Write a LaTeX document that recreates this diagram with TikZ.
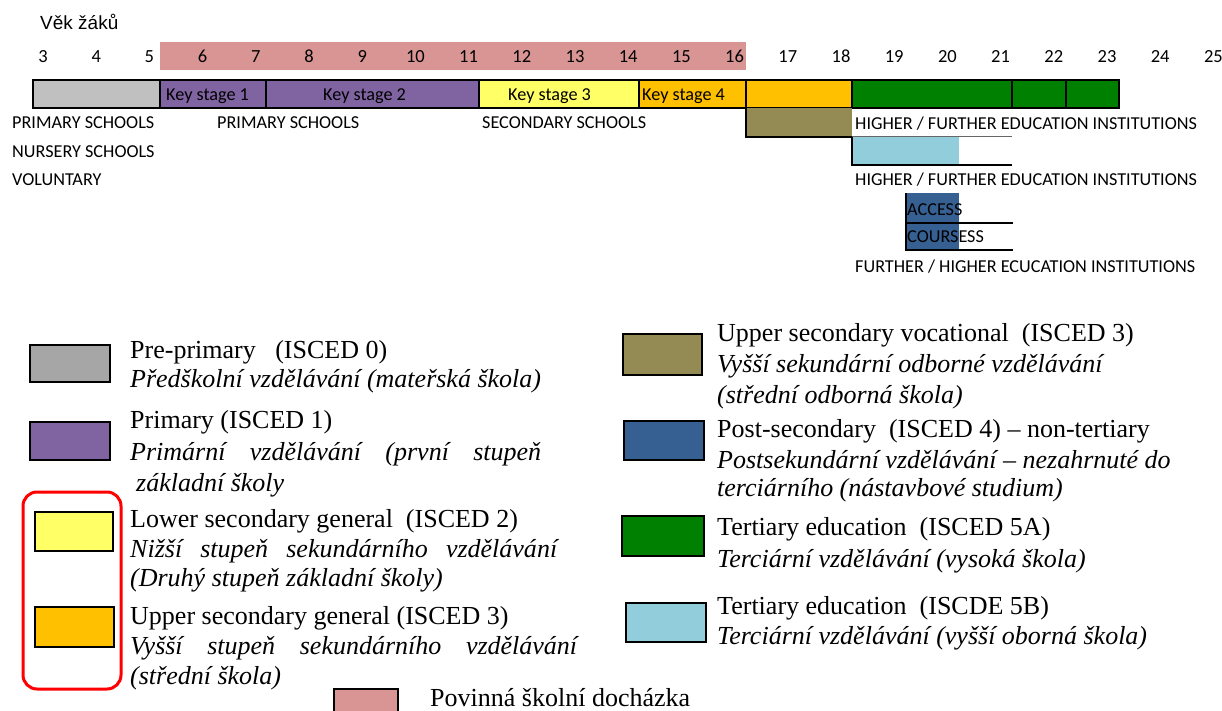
\documentclass[tikz,border=0pt]{standalone}
\usepackage{fontspec}
\setmainfont{Liberation Serif}
\newfontfamily\calfont{Carlito}
\newfontfamily\arialfont{Liberation Sans}
\usetikzlibrary{positioning}
\definecolor{barGrey}{HTML}{C0C0C0}
\definecolor{legGrey}{HTML}{A6A6A6}
\definecolor{dutyPink}{HTML}{D99594}
\definecolor{primPurple}{HTML}{8064A2}
\definecolor{lowYellow}{HTML}{FFFF66}
\definecolor{upOrange}{HTML}{FFC000}
\definecolor{vocOlive}{HTML}{948A54}
\definecolor{tertGreen}{HTML}{008000}
\definecolor{tertBlue}{HTML}{92CDDC}
\definecolor{postBlue}{HTML}{376092}
\tikzset{
  seg/.style={draw=black, line width=1.5pt},
  swatch/.style={draw=black, line width=1.8pt},
  num/.style={anchor=base, inner sep=0pt, font=\calfont\fontsize{18.5}{20}\selectfont},
  lbl/.style={anchor=base west, inner sep=0pt, font=\calfont\fontsize{18.2}{20}\selectfont},
  legtitle/.style={anchor=west, inner sep=0pt, font=\fontsize{26}{30}\selectfont},
  legsub/.style={anchor=west, inner sep=0pt, font=\fontsize{26}{30}\selectfont\itshape}
}

\begin{document}
\begin{tikzpicture}[x=1pt, y=-1pt]
    \useasboundingbox (0,0) rectangle (1222,711);
    \node[anchor=west, inner sep=0pt, font=\arialfont\fontsize{19}{21}\selectfont] (title) at (40,22) {Věk žáků};
    % Compulsory schooling band
    \fill[dutyPink] (160,42) rectangle (746,70);
    \foreach \n in {3,...,25}
        \node[num] (age\n) at ({43+(\n-3)*53.2},63) {\n};

    % Main bar
    \draw[seg, fill=barGrey] (33,80) rectangle (160,108);
    \draw[seg, fill=primPurple] (160,80) rectangle (266,108);
    \draw[seg, fill=primPurple] (266,80) rectangle (479,108);
    \draw[seg, fill=lowYellow] (479,80) rectangle (639,108);
    \draw[seg, fill=upOrange] (639,80) rectangle (746,108);
    \draw[seg, fill=upOrange] (746,80) rectangle (852,108);
    \draw[seg, fill=tertGreen] (852,80) rectangle (1012,108);
    \draw[seg, fill=tertGreen] (1012,80) rectangle (1066,108);
    \draw[seg, fill=tertGreen] (1066,80) rectangle (1119,108);
    \node[lbl] (ks1) at (166,101) {Key stage 1};
    \node[lbl] (ks2) at (323,101) {Key stage 2};
    \node[lbl] (ks3) at (508,101) {Key stage 3};
    \node[lbl] (ks4) at (642,101) {Key stage 4};

    % Vocational and tertiary rows
    \fill[vocOlive] (746,108) rectangle (852,137);
    \draw[seg] (746,108) -- (746,137) -- (852,137);
    \draw[line width=1pt, black!60] (852,137) -- (1012,137);
    \fill[tertBlue] (852,137) rectangle (959,165);
    \draw[seg] (852,137) -- (852,165) -- (1012,165);
    \fill[postBlue] (906,193) rectangle (959,250);
    \draw[seg] (906,193) -- (906,250) -- (1013,250);
    \draw[seg] (906,223) -- (1013,223);

    % Row labels
    \node[lbl] (prim0) at (12,129) {PRIMARY SCHOOLS};
    \node[lbl] (nurs) at (12,158) {NURSERY SCHOOLS};
    \node[lbl] (volun) at (12,186) {VOLUNTARY};
    \node[lbl] (prim1) at (217,129) {PRIMARY SCHOOLS};
    \node[lbl] (second) at (482,129) {SECONDARY SCHOOLS};
    \node[lbl] (hfe1) at (855,130) {HIGHER / FURTHER EDUCATION INSTITUTIONS};
    \node[lbl] (hfe2) at (855,186) {HIGHER / FURTHER EDUCATION INSTITUTIONS};
    \node[lbl] (access) at (907,215) {ACCESS};
    \node[lbl] (courses) at (907,243) {COURSESS};
    \node[lbl] (fhe) at (855,272) {FURTHER / HIGHER ECUCATION INSTITUTIONS};

    % Legend, left column
    \draw[swatch, fill=legGrey] (30,345) rectangle (110,382);
    \draw[swatch, fill=primPurple] (30,422) rectangle (110,460);
    \draw[swatch, fill=lowYellow] (35,512) rectangle (113,551);
    \draw[swatch, fill=upOrange] (35,607) rectangle (114,647);
    \draw[red, line width=3pt, rounded corners=14pt] (23,492) rectangle (121,689);
    \node[legtitle] (isced0) at (130,352) {Pre-primary \ \ (ISCED 0)};
    \node[legsub] (isced0cz) at (130,381) {Předškolní vzdělávání (mateřská škola)};
    \node[legtitle] (isced1) at (130,422) {Primary (ISCED 1)};
    \node[legsub] (isced1cz) at (130,454) {\makebox[411pt][s]{Primární vzdělávání (první stupeň}};
    \node[legsub] (isced1cz2) at (136,485) {základní školy};
    \node[legtitle] (isced2) at (130,521) {Lower secondary general \ (ISCED 2)};
    \node[legsub] (isced2cz) at (130,551) {\makebox[427pt][s]{Nižší stupeň sekundárního vzdělávání}};
    \node[legsub] (isced2cz2) at (130,580) {(Druhý stupeň základní školy)};
    \node[legtitle] (isced3) at (130,618) {Upper secondary general (ISCED 3)};
    \node[legsub] (isced3cz) at (130,648) {\makebox[447pt][s]{Vyšší stupeň sekundárního vzdělávání}};
    \node[legsub] (isced3cz2) at (130,678) {(střední škola)};

    % Legend, right column
    \draw[swatch, fill=vocOlive] (623,334) rectangle (702,375);
    \draw[swatch, fill=postBlue] (624,421) rectangle (704,460);
    \draw[swatch, fill=tertGreen] (622,516) rectangle (704,556);
    \draw[swatch, fill=tertBlue] (626,603) rectangle (706,642);
    \node[legtitle] (voc) at (717,335) {Upper secondary vocational \ (ISCED 3)};
    \node[legsub] (voccz) at (717,366) {Vyšší sekundární odborné vzdělávání};
    \node[legsub] (voccz2) at (717,397) {(střední odborná škola)};
    \node[legtitle] (isced4) at (717,431) {Post-secondary \ (ISCED 4) – non-tertiary};
    \node[legsub] (isced4cz) at (717,460) {Postsekundární vzdělávání – nezahrnuté do};
    \node[legsub] (isced4cz2) at (717,490) {terciárního (nástavbové studium)};
    \node[legtitle] (isced5a) at (717,529) {Tertiary education \ (ISCED 5A)};
    \node[legsub] (isced5acz) at (717,561) {Terciární vzdělávání (vysoká škola)};
    \node[legtitle] (isced5b) at (717,608) {Tertiary education \ (ISCDE 5B)};
    \node[legsub] (isced5bcz) at (717,638) {Terciární vzdělávání (vyšší oborná škola)};

    % Compulsory schooling key
    \draw[swatch, fill=dutyPink] (334,689) rectangle (398,712);
    \node[legtitle] (duty) at (430,698) {Povinná školní docházka};
\end{tikzpicture}
\end{document}
